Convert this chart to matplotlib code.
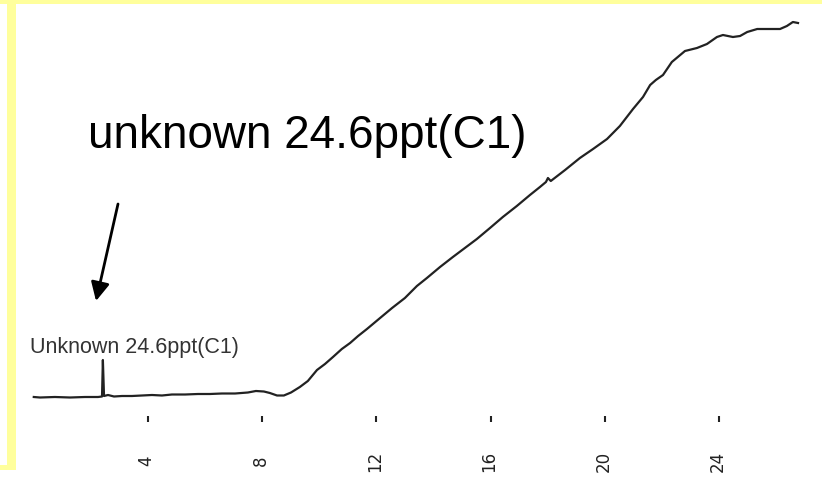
import numpy as np
import matplotlib.pyplot as plt
from matplotlib.patches import Rectangle

# retention time (min) and detector signal
rt = [0.0, 0.22, 0.74, 1.27, 1.79, 2.25, 2.39, 2.42, 2.46, 2.60, 2.81, 3.09,
      3.44, 3.79, 4.14, 4.49, 4.84, 5.30, 5.75, 6.17, 6.59, 7.05, 7.50, 7.78,
      8.06, 8.27, 8.52, 8.76, 9.01, 9.32, 9.60, 9.92, 10.20, 10.48, 10.79,
      11.08, 11.36, 11.67, 12.13, 12.55, 13.00, 13.42, 13.77, 14.23, 14.68,
      15.10, 15.52, 15.98, 16.43, 16.92, 17.38, 17.73, 17.94, 18.01, 18.11,
      18.61, 19.13, 19.59, 20.08, 20.53, 20.99, 21.34, 21.59, 21.79, 22.04,
      22.35, 22.81, 23.23, 23.58, 23.93, 24.14, 24.49, 24.74, 24.99, 25.34,
      25.68, 26.14, 26.38, 26.59, 26.77]
signal = [0.20, 0.15, 0.20, 0.15, 0.20, 0.20, 0.25, 3.90, 0.30, 0.40, 0.25,
          0.30, 0.30, 0.35, 0.40, 0.35, 0.45, 0.45, 0.50, 0.50, 0.55, 0.55,
          0.65, 0.80, 0.75, 0.60, 0.35, 0.35, 0.65, 1.20, 1.80, 2.90, 3.50,
          4.20, 5.00, 5.60, 6.30, 7.00, 8.10, 9.10, 10.10, 11.30, 12.10,
          13.20, 14.20, 15.10, 16.00, 17.10, 18.20, 19.30, 20.40, 21.20,
          21.70, 22.10, 21.80, 22.90, 24.10, 25.00, 26.00, 27.30, 29.00,
          30.20, 31.40, 31.90, 32.40, 33.70, 34.80, 35.10, 35.50, 36.20,
          36.40, 36.20, 36.30, 36.70, 37.00, 37.00, 37.00, 37.30, 37.70, 37.60]

tick_pos = [4, 8, 12, 16, 20, 24]
tick_labels = ['4', '8', '12', '16', '20', '24']

peak_label = 'Unknown 24.6ppt(C1)'
callout = 'unknown 24.6ppt(C1)'

W, H = 822, 481
fig = plt.figure(figsize=(W / 100, H / 100), dpi=100)
fig.patch.set_facecolor('white')

# slide frame: yellow strip on top and on the left
yellow = '#ffff9c'
def px_rect(x0, y0, x1, y1):
    fig.patches.append(Rectangle((x0 / W, 1 - y1 / H), (x1 - x0) / W, (y1 - y0) / H,
                                 transform=fig.transFigure, facecolor=yellow,
                                 edgecolor='none', zorder=0))
px_rect(0, 0, W, 5)
px_rect(7, 0, 16, 471)
px_rect(0, 466, 16, 471)

ax = fig.add_axes([16 / W, 0, (W - 16) / W, 476 / H])
ax.patch.set_visible(False)
ax.set_xlim(-0.623, 27.61)
ax.set_ylim(-8.1, 39.5)
ax.axis('off')

ax.plot(rt, signal, color='#222222', lw=1.6, solid_joinstyle='round')

# short tick marks under the trace with rotated labels
ax.vlines(tick_pos, -2.3, -1.7, color='#222222', lw=1.5)
for t, lab in zip(tick_pos, tick_labels):
    ax.text(t - 0.05, -6.1, lab, rotation=90, ha='center', va='center',
            fontsize=12, color='#222222', family='DejaVu Sans')

ax.text(-0.13, 4.7, peak_label, ha='left', va='baseline', fontsize=15.5,
        color='#333333', family='Liberation Sans')

ax.text(17.27, 25.2, callout, ha='right', va='baseline', fontsize=33,
        color='black', family='Liberation Sans')

ax.annotate('', xy=(2.18, 9.8), xytext=(2.95, 19.5),
            arrowprops=dict(arrowstyle='-|>', color='black', lw=2,
                            mutation_scale=28, shrinkA=0, shrinkB=0))

fig.savefig('out.png', dpi=100)
